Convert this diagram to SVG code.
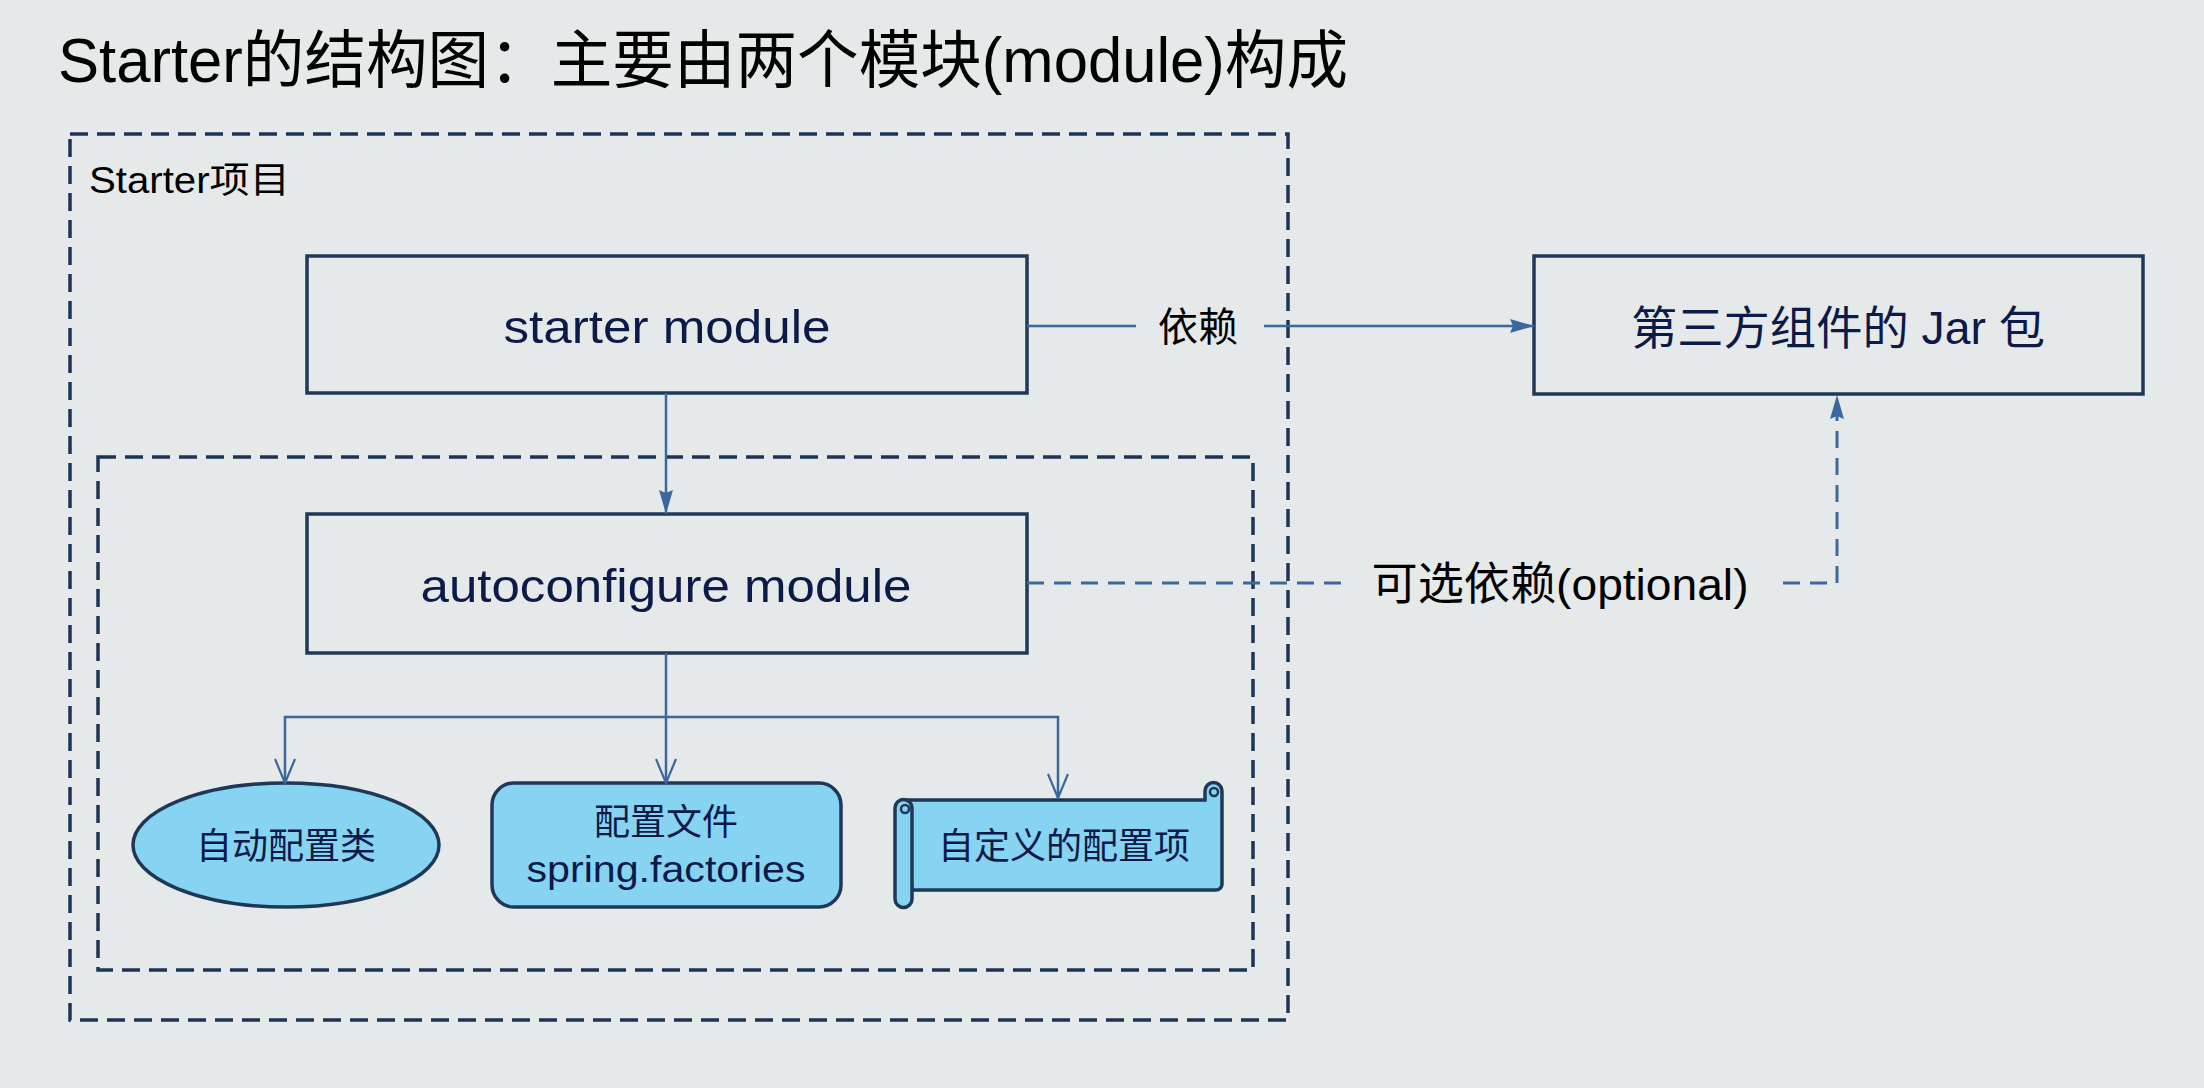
<svg xmlns="http://www.w3.org/2000/svg" width="2204" height="1088" viewBox="0 0 2204 1088">
<defs>
<style>
.t{font-family:"Liberation Sans","Noto Sans CJK SC",sans-serif;}
.navy{fill:#0c1a48;}
.box{fill:none;stroke:#1f3857;stroke-width:3.5;}
.grp{fill:none;stroke:#1d3452;stroke-width:3.5;stroke-dasharray:18 9;}
.shape{fill:#86d3f2;stroke:#1f3857;stroke-width:3.5;}
.ln{fill:none;stroke:#3a679c;stroke-width:2.5;}
.dl{fill:none;stroke:#3d6a9c;stroke-width:3;stroke-dasharray:17 10;}
</style>
<marker id="fa" viewBox="0 0 24 14" markerWidth="24" markerHeight="14" refX="24" refY="7" orient="auto" markerUnits="userSpaceOnUse">
<path d="M0,0 L24,7 L0,14 L3,7 Z" fill="#3a679c"/>
</marker>
<marker id="oa" viewBox="0 0 26 22" markerWidth="26" markerHeight="22" refX="25" refY="11" orient="auto" markerUnits="userSpaceOnUse">
<path d="M1,1 L25,11 L1,21" fill="none" stroke="#3a679c" stroke-width="2.2"/>
</marker>
</defs>
<rect width="2204" height="1088" fill="#e6e9e9"/>
<text id="title" class="t" x="58" y="82" font-size="63" fill="#000" textLength="1290" lengthAdjust="spacingAndGlyphs">Starter的结构图：主要由两个模块(module)构成</text>
<g id="starter-project">
<rect class="grp" x="70" y="134" width="1218" height="886"/>
<text class="t" x="89" y="193" font-size="36" fill="#000" textLength="201" lengthAdjust="spacingAndGlyphs">Starter项目</text>
</g>
<g id="autoconfigure-group">
<rect class="grp" x="98" y="457" width="1155" height="513"/>
</g>
<g id="starter-module">
<rect class="box" x="307" y="256" width="720" height="137"/>
<text class="t navy" x="667" y="343" font-size="47" text-anchor="middle" textLength="327" lengthAdjust="spacingAndGlyphs">starter module</text>
</g>
<g id="autoconfigure-module">
<rect class="box" x="307" y="514" width="720" height="139"/>
<text class="t navy" x="666" y="602" font-size="47" text-anchor="middle" textLength="491" lengthAdjust="spacingAndGlyphs">autoconfigure module</text>
</g>
<g id="jar">
<rect class="box" x="1534" y="256" width="609" height="138"/>
<text class="t navy" x="1838" y="344" font-size="46" text-anchor="middle" textLength="414" lengthAdjust="spacingAndGlyphs">第三方组件的 Jar 包</text>
</g>
<g id="auto-config-class">
<ellipse class="shape" cx="286" cy="845" rx="153" ry="62"/>
<text class="t navy" x="286" y="859" font-size="36" text-anchor="middle">自动配置类</text>
</g>
<g id="spring-factories">
<rect class="shape" x="492" y="783" width="349" height="124" rx="22" ry="22"/>
<text class="t navy" x="666" y="835" font-size="36" text-anchor="middle">配置文件</text>
<text class="t navy" x="666" y="882" font-size="37" text-anchor="middle" textLength="279" lengthAdjust="spacingAndGlyphs">spring.factories</text>
</g>
<g id="custom-config">
<path class="shape" d="M903,800 L1205,800 L1205,791 A8.5,8.5 0 0 1 1222,791 L1222,884 A6,6 0 0 1 1216,890 L912,890 Z"/>
<path class="shape" d="M895,808 A8.5,8.5 0 0 1 912,808 L912,899 A8.5,8.5 0 0 1 895,899 Z"/>
<circle cx="905" cy="809" r="4" fill="#86d3f2" stroke="#1f3857" stroke-width="2.5"/>
<circle cx="1214" cy="792" r="4" fill="#86d3f2" stroke="#1f3857" stroke-width="2.5"/>
<text class="t navy" x="1064" y="859" font-size="36" text-anchor="middle">自定义的配置项</text>
</g>
<g id="connectors">
<line class="ln" x1="666" y1="393" x2="666" y2="514" marker-end="url(#fa)"/>
<line class="ln" x1="1027" y1="326" x2="1136" y2="326" stroke-width="3"/>
<line class="ln" x1="1264" y1="326" x2="1534" y2="326" stroke-width="3" marker-end="url(#fa)"/>
<text class="t" x="1198" y="341" font-size="40" text-anchor="middle" fill="#000">依赖</text>
<line class="dl" x1="1027" y1="583" x2="1345" y2="583"/>
<path class="dl" d="M1783,583 H1837 V395" marker-end="url(#fa)"/>
<text class="t" x="1560" y="600" font-size="45" text-anchor="middle" fill="#000" textLength="377" lengthAdjust="spacingAndGlyphs">可选依赖(optional)</text>
<line class="ln" x1="666" y1="653" x2="666" y2="783" marker-end="url(#oa)"/>
<path class="ln" d="M666,717 H285 V783" marker-end="url(#oa)"/>
<path class="ln" d="M666,717 H1058 V798" marker-end="url(#oa)"/>
</g>
</svg>
